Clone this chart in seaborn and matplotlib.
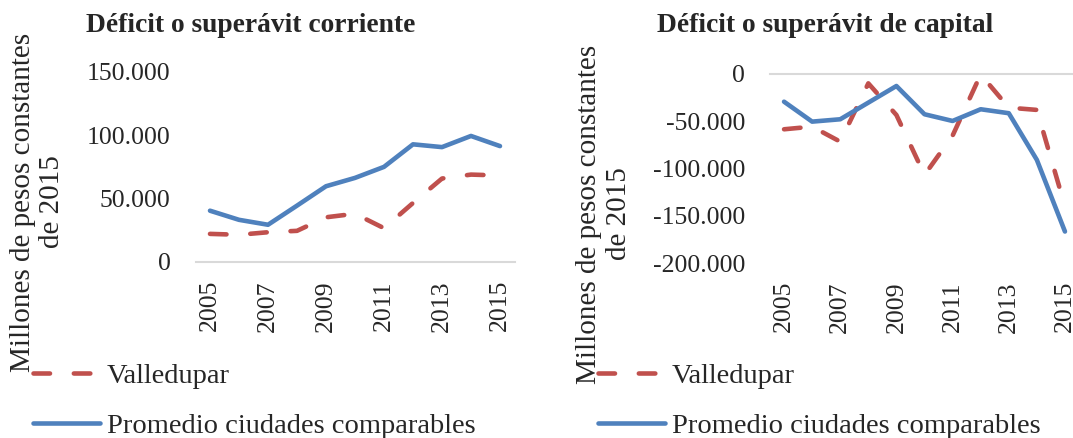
import matplotlib
matplotlib.use("Agg")
import matplotlib.pyplot as plt
import seaborn as sns
import pandas as pd

# ---- data ----
years = list(range(2005, 2016))
corr_valledupar = [22200, 21500, 23500, 24600, 35300, 38100, 26700, 46600, 65900, 69000, 68300]
corr_promedio = [40500, 33300, 29400, 44500, 59800, 66400, 75100, 92900, 90700, 99500, 91500]
cap_valledupar = [-58500, -55700, -71600, -9900, -43400, -106800, -65200, -500, -35600, -38000, -140000]
cap_promedio = [-29300, -50400, -47900, -30300, -12700, -42600, -49700, -37300, -41500, -90900, -166700]
xtick_years = [2005, 2007, 2009, 2011, 2013, 2015]
corr_yticks = [0, 50000, 100000, 150000]
cap_yticks = [0, -50000, -100000, -150000, -200000]
title_corr = "Déficit o superávit corriente"
title_cap = "Déficit o superávit de capital"
ylabel = "Millones de pesos constantes\nde 2015"
series_names = ["Valledupar", "Promedio ciudades comparables"]

RED = "#C0504D"
BLUE = "#4F81BD"
GRID = "#D9D9D9"

sns.set_theme(style="white")
plt.rcParams["font.family"] = ["Liberation Serif", "DejaVu Serif"]

W, H = 1073, 438
fig = plt.figure(figsize=(W / 100, H / 100), dpi=100)

def px_ax(left, top, right, bottom):
    return fig.add_axes([left / W, 1 - bottom / H, (right - left) / W, (bottom - top) / H])

ax1 = px_ax(195.5, 72, 514.5, 262)
ax2 = px_ax(770, 74, 1079, 263)

def fmt(v):
    s = f"{abs(int(v)):,}".replace(",", ".")
    return ("-" if v < 0 else "") + s

def draw(ax, red_vals, blue_vals, yticks, ylim, zero_top):
    df = pd.DataFrame({"year": years, "red": red_vals, "blue": blue_vals})
    sns.lineplot(data=df, x="year", y="red", ax=ax, color=RED, lw=3.3, label=series_names[0])
    sns.lineplot(data=df, x="year", y="blue", ax=ax, color=BLUE, lw=3.3, label=series_names[1])
    lr, lb = ax.lines[0], ax.lines[1]
    lr.set_dashes((3.6, 5.2))
    lr.set_dash_capstyle("round")
    lr.set_solid_capstyle("round")
    lb.set_solid_capstyle("round")
    lb.set_solid_joinstyle("round")
    lr.set_dash_joinstyle("round")
    ax.set_xlim(2004.5, 2015.5)
    ax.set_ylim(*ylim)
    ax.set_xticks(xtick_years)
    ax.set_xticklabels([str(y) for y in xtick_years], rotation=90, fontsize=18.5)
    ax.set_yticks(yticks)
    ax.set_yticklabels([fmt(v) for v in yticks], fontsize=18.5)
    ax.tick_params(axis="x", length=0, pad=13)
    ax.tick_params(axis="y", length=0, pad=18)
    for s in ["left", "right", "top", "bottom"]:
        ax.spines[s].set_visible(False)
    sp = "top" if zero_top else "bottom"
    ax.spines[sp].set_visible(True)
    ax.spines[sp].set_color(GRID)
    ax.spines[sp].set_linewidth(1.5)
    ax.set_xlabel("")
    ax.set_ylabel("")
    ax.set_facecolor("none")
    ax.get_legend().remove()
    return lr, lb

h1 = draw(ax1, corr_valledupar, corr_promedio, corr_yticks, (0, 150000), False)
h2 = draw(ax2, cap_valledupar, cap_promedio, cap_yticks, (-200000, 0), True)

# titles
fig.text(251 / W, 1 - 26 / H, title_corr, ha="center", va="center", fontsize=19.8, fontweight="bold")
fig.text(825 / W, 1 - 26 / H, title_cap, ha="center", va="center", fontsize=19.8, fontweight="bold")

# y labels
fig.text(37.5 / W, 1 - 202 / H, ylabel, ha="center", va="center", rotation=90, fontsize=21,
         multialignment="center", linespacing=1.15)
fig.text(604 / W, 1 - 214 / H, ylabel, ha="center", va="center", rotation=90, fontsize=21,
         multialignment="center", linespacing=1.15)

# legends
for ax, hs, x0 in [(ax1, h1, 33), (ax2, h2, 598)]:
    fig.legend(hs, series_names, loc="upper left", bbox_to_anchor=(x0 / W, 1 - 363 / H),
               frameon=False, fontsize=20.5, handlelength=2.35, handletextpad=0.25,
               labelspacing=0.84, borderpad=0, borderaxespad=0)

fig.savefig("out.png", dpi=100, facecolor="white")
